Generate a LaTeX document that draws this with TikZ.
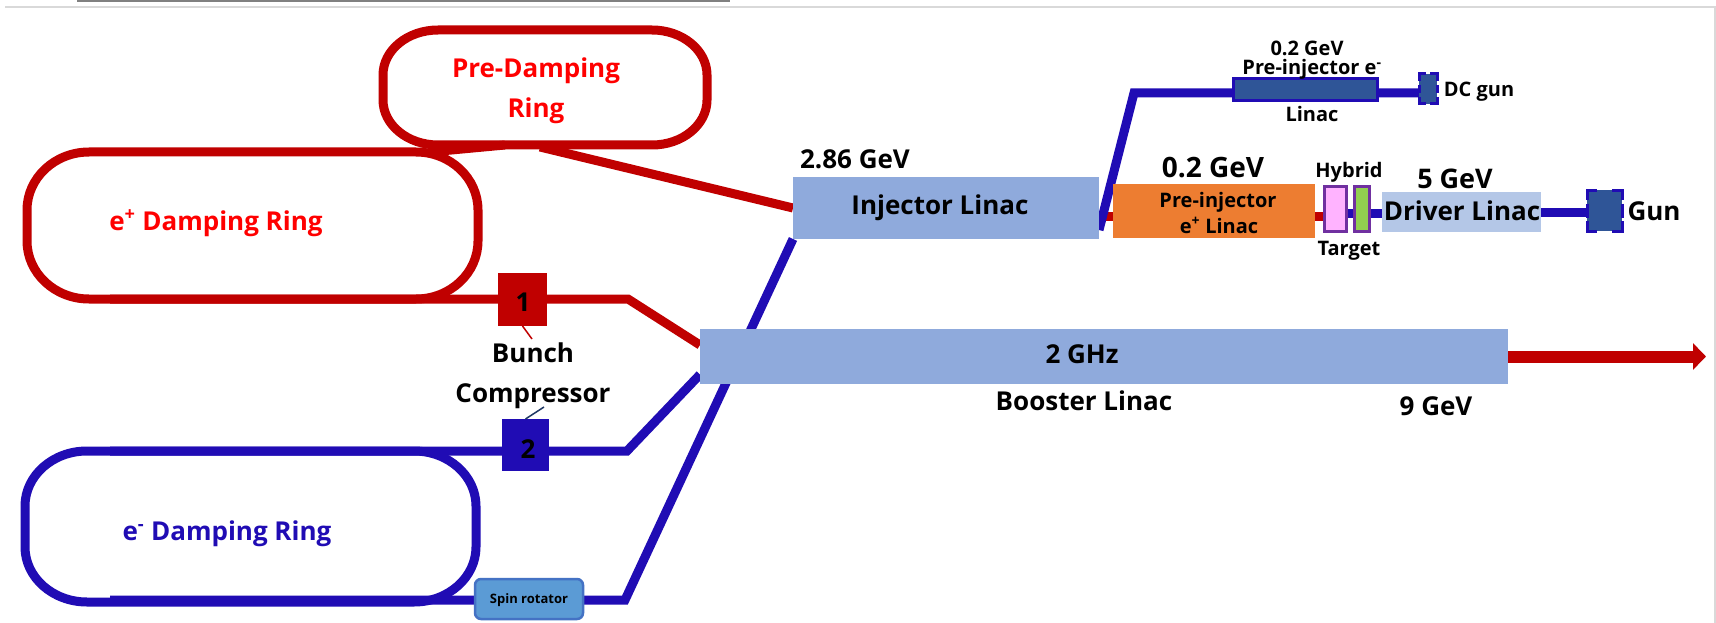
\documentclass[tikz,border=0pt]{standalone}
\usepackage{fontspec}
\setmainfont{Open Sans}
\usetikzlibrary{arrows.meta,calc}
\pgfdeclarelayer{bg}
\pgfsetlayers{bg,main}

\definecolor{ringred}{HTML}{C00000}
\definecolor{txtred}{HTML}{FF0000}
\definecolor{beamblue}{HTML}{200CB4}
\definecolor{linacblue}{HTML}{8FAADC}
\definecolor{drvblue}{HTML}{B4C7E7}
\definecolor{pinorange}{HTML}{ED7D31}
\definecolor{darkbox}{HTML}{2F5597}
\definecolor{spinfill}{HTML}{5B9BD5}
\definecolor{spinedge}{HTML}{4472C4}
\definecolor{tgtpink}{HTML}{FFB3FF}
\definecolor{tgtgreen}{HTML}{92D050}
\definecolor{tgtedge}{HTML}{7030A0}
\definecolor{framegray}{HTML}{D9D9D9}
\definecolor{topgray}{HTML}{808080}
\definecolor{leaderblue}{HTML}{1F3864}

% racetrack ring with elliptical corners: style, x1, y1, x2, y2, rx, ry
\newcommand\ringloop[7]{%
  \draw[#1] (#2+#6,#3) -- (#4-#6,#3)
    arc[start angle=270,end angle=360,x radius=#6,y radius=#7] -- (#4,#5-#7)
    arc[start angle=0,end angle=90,x radius=#6,y radius=#7] -- (#2+#6,#5)
    arc[start angle=90,end angle=180,x radius=#6,y radius=#7] -- (#2,#3+#7)
    arc[start angle=180,end angle=270,x radius=#6,y radius=#7] -- cycle;}

% corner and side marks of a gun housing (lengths in picture units)
\newcommand\gunmarks[3]{%
  \draw[markedge] ($(#1.north west)+(0,#2)$) -- (#1.north west) -- ($(#1.north west)+(#2,0)$);
  \draw[markedge] ($(#1.north east)+(0,#2)$) -- (#1.north east) -- ($(#1.north east)+(-#2,0)$);
  \draw[markedge] ($(#1.south west)+(0,-#2)$) -- (#1.south west) -- ($(#1.south west)+(#2,0)$);
  \draw[markedge] ($(#1.south east)+(0,-#2)$) -- (#1.south east) -- ($(#1.south east)+(-#2,0)$);
  \draw[markedge] ($(#1.west)+(0,-#3)$) -- ($(#1.west)+(0,#3)$);
  \draw[markedge] ($(#1.east)+(0,-#3)$) -- ($(#1.east)+(0,#3)$);}

\begin{document}
\begin{tikzpicture}[x=1pt,y=-1pt,
  ringr/.style={draw=ringred,line width=9pt},
  ringb/.style={draw=beamblue,line width=9pt},
  redline/.style={draw=ringred,line width=9pt},
  blueline/.style={draw=beamblue,line width=9pt},
  box/.style={rectangle,inner sep=0pt,outer sep=0pt},
  markedge/.style={draw=beamblue,line width=3pt},
  lbl/.style={anchor=base,inner sep=0pt,outer sep=0pt},
  big/.style={lbl,font=\bfseries\fontsize{26}{26}\selectfont},
  mid/.style={lbl,font=\bfseries\fontsize{20}{20}\selectfont},
  tiny/.style={lbl,font=\bfseries\fontsize{13}{13}\selectfont},
]
\useasboundingbox (0,0) rectangle (1716,623);

% ---- accelerator components ----
\node[box,fill=linacblue,minimum width=306pt,minimum height=62pt] (inj) at (946,208) {};
\node[box,fill=linacblue,minimum width=808pt,minimum height=55pt] (boost) at (1104,356.5) {};
\node[box,fill=pinorange,minimum width=202pt,minimum height=54pt] (pos) at (1214,211) {};
\node[box,fill=tgtpink,draw=tgtedge,line width=3pt,minimum width=22pt,minimum height=45pt] (pink) at (1335.5,209) {};
\node[box,fill=tgtgreen,draw=tgtedge,line width=3pt,minimum width=15pt,minimum height=45pt] (green) at (1362,209) {};
\node[box,fill=drvblue,minimum width=159pt,minimum height=40pt] (drv) at (1461.5,212) {};
\node[box,fill=darkbox,minimum width=35pt,minimum height=41pt] (gun) at (1604.5,210.5) {};
\node[box,fill=darkbox,draw=beamblue,line width=3pt,minimum width=144pt,minimum height=22pt] (pree) at (1305.5,89.5) {};
\node[box,fill=darkbox,minimum width=18pt,minimum height=30pt] (dcgun) at (1428,89) {};
\node[box,fill=ringred,minimum width=49pt,minimum height=53pt] (bc1) at (522.5,299.5) {};
\node[box,fill=beamblue,minimum width=47pt,minimum height=52pt] (bc2) at (525.5,445) {};
\node[box,fill=spinfill,draw=spinedge,line width=2.5pt,rounded corners=6pt,minimum width=108pt,minimum height=40pt] (spin) at (529,599) {};
\gunmarks{gun}{10}{7}
\gunmarks{dcgun}{7}{4}

% ---- labels ----
\node[big,text=txtred] (pdrA) at (536,78) {Pre-Damping};
\node[big,text=txtred] (pdrB) at (536,118) {Ring};
\node[big,text=txtred] (eptxt) at (216,230) {e\textsuperscript{+} Damping Ring};
\node[big,text=beamblue] (emtxt) at (227,540) {e\textsuperscript{-} Damping Ring};
\node[big] (injE) at (855,168) {2.86 GeV};
\node[big] (injN) at (940,214) {Injector Linac};
\node[big] (boostF) at (1082,363) {2 GHz};
\node[big] (boostN) at (1084,410) {Booster Linac};
\node[big] (boostE) at (1436,415) {9 GeV};
\node[big] (bc1n) at (523,311) {1};
\node[big] (bc2n) at (528,458) {2};
\node[big] (bunchA) at (533,362) {Bunch};
\node[big] (bunchB) at (533,402) {Compressor};
\node[lbl,font=\bfseries\fontsize{28}{28}\selectfont] (posE) at (1213,178) {0.2 GeV};
\node[mid] (posA) at (1218,207) {Pre-injector};
\node[mid] (posB) at (1219,233) {e\textsuperscript{+} Linac};
\node[mid] (hyb) at (1349,177) {Hybrid};
\node[mid] (tgt) at (1349,255) {Target};
\node[lbl,font=\bfseries\fontsize{27}{27}\selectfont] (drvE) at (1455,188) {5 GeV};
\node[big] (drvN) at (1462,220) {Driver Linac};
\node[big] (gunN) at (1654,220) {Gun};
\node[mid] (preeE) at (1307,56) {0.2 GeV};
\node[mid] (preeA) at (1312,75) {Pre-injector e\textsuperscript{-}};
\node[mid] (preeB) at (1312,122) {Linac};
\node[mid] (dcgunN) at (1479,97) {DC gun};
\node[tiny] (spinN) at (529,603) {Spin rotator};

% ---- beam lines and rings ----
\coordinate (pdrout) at (540,147);
\coordinate (eplinkA) at (430,152);
\coordinate (eplinkB) at (505,145);
\coordinate (epbot) at (110,299);
\coordinate (bcAbend) at (628,299);
\coordinate (emtop) at (110,451);
\coordinate (bcBbend) at (627,451);
\coordinate (embot) at (110,600);
\coordinate (spinbend) at (625,600);
\coordinate (ebend) at (1134,93);
\coordinate (arrowtip) at (1706,355);
\coordinate (leadA) at (532,339);
\coordinate (leadB) at (544,407);

\begin{pgfonlayer}{bg}
  \fill[white] (0,0) rectangle (1716,623);
  \draw[topgray,line width=2pt] (77,0.8) -- (730,0.8);
  \draw[framegray,line width=1.5pt] (5,7) -- (1715,7) -- (1715,630);

  \ringloop{ringr}{383}{30}{707}{145}{55}{45}
  \ringloop{ringr}{27}{152}{478}{299}{62}{58}
  \ringloop{ringb}{25}{451}{476}{602}{62}{55}

  % positron side
  \draw[redline] (eplinkA) -- (eplinkB);
  \draw[redline] (pdrout) -- (inj.west);
  \draw[redline,line join=miter] (epbot) -- (bcAbend) -- ([yshift=11.5pt]boost.west);
  \draw[redline] ([yshift=-8pt]inj.east) -- ([yshift=-8pt]inj.east -| pos.west);
  \draw[redline] ([yshift=-5pt]pos.east) -- ([yshift=-5pt]pos.east -| pink.west);
  \draw[blueline] ([yshift=-4pt]pink.east) -- ([yshift=-4pt]pink.east -| drv.west);
  \draw[blueline] (drv.east) -- (drv.east -| gun.west);

  % electron side
  \draw[blueline,line join=miter] (emtop) -- (bcBbend) -- ([yshift=-18pt]boost.west);
  \draw[blueline,line join=miter] (embot) -- (spinbend) -- (inj.south west);
  \draw[blueline,line join=miter] ([yshift=-22pt]inj.east) -- (ebend) -- (ebend -| dcgun.west);

  % extracted beam
  \draw[draw=ringred,line width=12pt,-{Triangle[length=13pt,width=26pt]}] (boost.east) -- (boost.east -| arrowtip);
\end{pgfonlayer}

% leaders to the bunch compressor label
\draw[ringred,line width=1.5pt] (bc1.south) -- (leadA);
\draw[leaderblue,line width=1.5pt] (bc2.north) -- (leadB);
\end{tikzpicture}
\end{document}
